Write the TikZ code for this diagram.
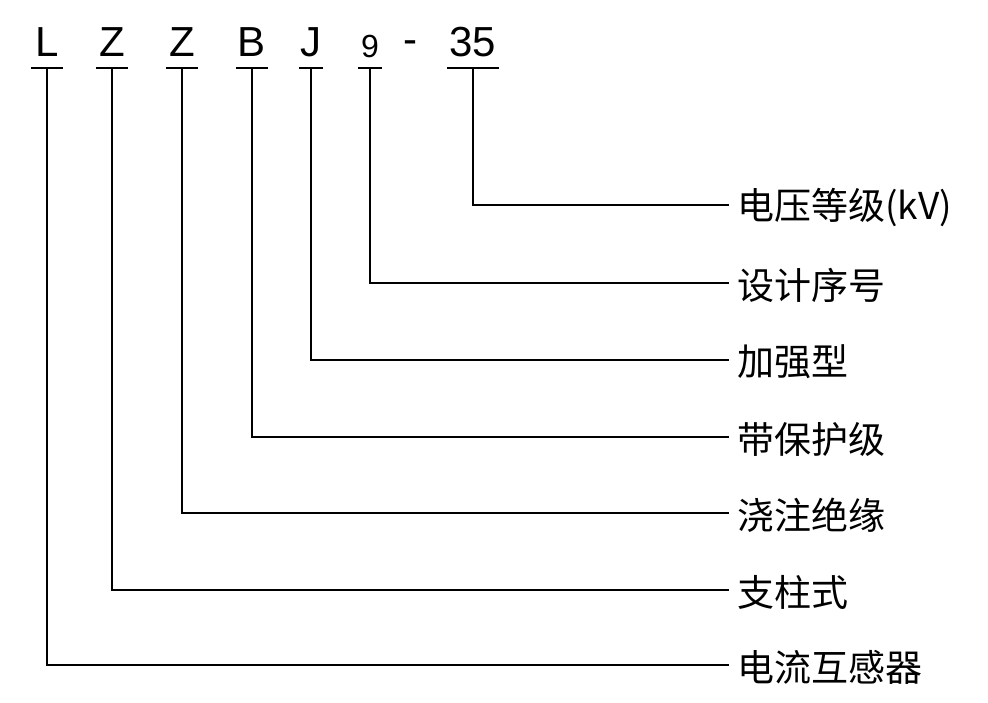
\documentclass[tikz,border=0pt]{standalone}
\usepackage{fontspec}
\setmainfont{Liberation Sans}
\newfontfamily\cjk{Noto Sans CJK SC}
\usetikzlibrary{positioning}
\begin{document}
\begin{tikzpicture}[x=1pt, y=-1pt,
        code/.style={inner sep=0pt, font=\fontsize{42}{42}\selectfont},
        small/.style={inner sep=0pt, font=\fontsize{32}{32}\selectfont},
        label/.style={anchor=west, inner sep=0pt, font=\cjk\fontsize{37}{37}\selectfont},
        line/.style={line width=1.3pt}
    ]
        \useasboundingbox (0,0) rectangle (988,702);
        % letters of the type code
        \node [code] (L) at (47,42) {L};
        \node [code] (Z1) at (112,42) {Z};
        \node [code] (Z2) at (182,42) {Z};
        \node [code] (B) at (252,42) {B};
        \node [code] (J) at (311,42) {J};
        \node [small] (N) at (370,46) {9};
        \node [code] (D) at (410,47) {-};
        \node [code] (V) at (473,42) {35};

        % explanations
        \node [label] (tV) at (737,207) {电压等级(kV)};
        \node [label] (tN) at (737,285) {设计序号};
        \node [label] (tJ) at (737,362) {加强型};
        \node [label] (tB) at (737,439) {带保护级};
        \node [label] (tZ2) at (737,515) {浇注绝缘};
        \node [label] (tZ1) at (737,592) {支柱式};
        \node [label] (tL) at (737,667) {电流互感器};

        % underlines and leaders
        \foreach \c/\t/\x/\w in {L/tL/47/16, Z1/tZ1/112/16, Z2/tZ2/182/16, B/tB/252/16,
                                 J/tJ/311/12, N/tN/370/12, V/tV/473/26} {
            \coordinate (u\c) at (\x,68);
            \draw [line] (\x-\w,68) -- (\x+\w,68);
            \draw [line] (u\c) |- ([xshift=-8pt,yshift=2pt]\t.west);
        }
    \end{tikzpicture}
\end{document}
